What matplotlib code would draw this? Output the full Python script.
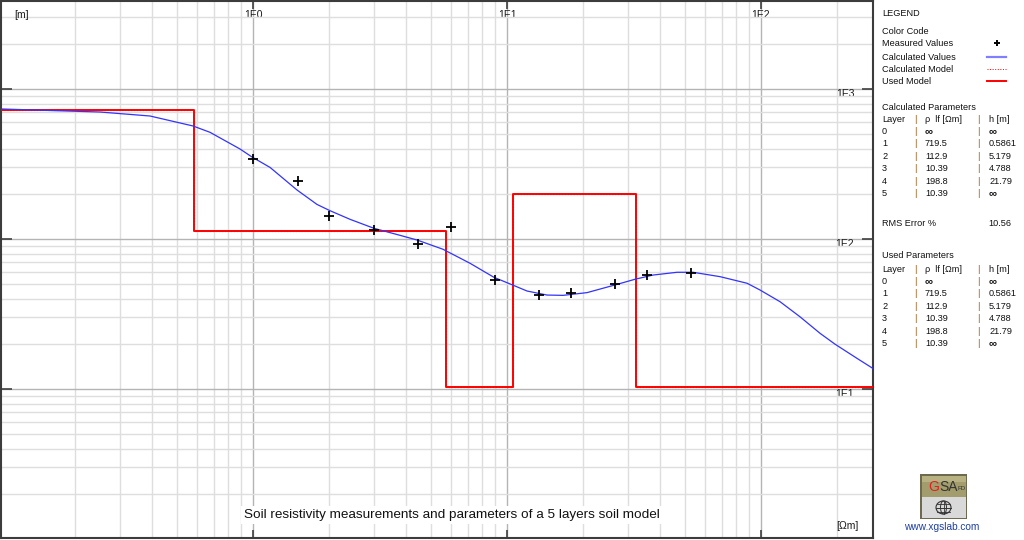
import numpy as np
import matplotlib
matplotlib.use("Agg")
import matplotlib.pyplot as plt
from matplotlib.lines import Line2D
from matplotlib.patches import Rectangle, Ellipse

plt.rcParams['font.family'] = ['Liberation Sans', 'DejaVu Sans']

# ---------------- data ----------------
meas_spacing = [1.0, 1.5, 2.0, 3.0, 4.45, 6.0, 9.0, 13.4, 17.8, 26.7, 35.6, 53.2]
meas_rho = [341, 243, 143, 115, 93, 120, 53, 42.1, 43.6, 49.9, 57.8, 59.0]

calc_spacing = [0.1028, 0.2497, 0.393, 0.5803, 0.677, 0.889, 0.991, 1.167, 1.49, 1.786,
                2.01, 2.409, 2.995, 3.791, 4.422, 5.598, 7.15, 8.888, 10.27, 11.99,
                14.37, 16.61, 20.65, 26.61, 31.9, 37.57, 46.7, 54.0, 68.98, 88.1,
                99.1, 118.8, 142.4, 170.8, 195.6, 238.8, 276.0]
calc_rho = [735.6, 702.4, 660.7, 566.9, 514.4, 398.0, 352.0, 300.0, 212.2, 170.0,
            154.4, 135.3, 117.8, 105.8, 98.5, 85.4, 68.9, 55.5, 50.2, 45.0,
            42.3, 42.1, 43.9, 49.4, 53.9, 57.5, 60.0, 60.0, 56.1, 50.7,
            45.7, 38.2, 30.3, 23.5, 19.9, 16.0, 13.7]

layers = ['0', '1', '2', '3', '4', '5']
layer_rho = [719.5, 112.9, 10.39, 198.8, 10.39]
layer_h = [0.5861, 5.179, 4.788, 21.79]
rho_labels = ['∞', '719.5', '112.9', '10.39', '198.8', '10.39']
h_labels = ['∞', '0.5861', '5.179', '4.788', '21.79', '∞']
rms_error = '10.56'

x_ticks = [1, 10, 100]
x_tick_labels = ['1E0', '1E1', '1E2']
y_ticks = [10, 100, 1000]
y_tick_labels = ['1E1', '1E2', '1E3']

title = 'Soil resistivity measurements and parameters of a 5 layers soil model'
x_unit = '[m]'
y_unit = '[Ωm]'

XMIN, XMAX = 0.1018, 276.0
YMIN, YMAX = 1.0155, 3861.0

# ---------------- figure ----------------
W, H = 1024, 540
fig = plt.figure(figsize=(W / 100, H / 100), dpi=100)
fig.patch.set_facecolor('white')


def fx(px):
    return px / W


def fy(py):
    return 1 - py / H


ax = fig.add_axes([fx(1), fy(538), 872 / W, 537 / H])
ax.set_xscale('log')
ax.set_yscale('log')
ax.set_xlim(XMIN, XMAX)
ax.set_ylim(YMIN, YMAX)

ax.grid(True, which='major', color='#b4b4b4', lw=1.0)
ax.grid(True, which='minor', color='#dedede', lw=1.0)
ax.set_axisbelow(True)

# used / calculated model (step)
depths = list(np.cumsum(layer_h))
edges = [XMIN] + depths + [XMAX]
vals = layer_rho + [layer_rho[-1]]
ax.step(edges, vals, where='post', color='#ff0000', lw=1.4, zorder=3)
ax.step(edges, vals, where='post', color='#ff0000', lw=0.8, ls=':', zorder=3)

ax.plot(calc_spacing, calc_rho, color='#3333ff', lw=0.9, zorder=4)
ax.plot(meas_spacing, meas_rho, ls='none', marker='+', color='black',
        ms=7, mew=1.3, zorder=5)

ax.set_xticks(x_ticks, labels=x_tick_labels)
ax.set_yticks(y_ticks, labels=y_tick_labels)
ax.xaxis.set_minor_formatter(matplotlib.ticker.NullFormatter())
ax.yaxis.set_minor_formatter(matplotlib.ticker.NullFormatter())
ax.tick_params(axis='x', which='major', direction='in', top=True, bottom=True,
               labeltop=True, labelbottom=False, length=6, width=1.2,
               color='#404040', pad=-14, labelsize=7.5, labelcolor='#1a1a1a')
ax.tick_params(axis='y', which='major', direction='in', left=True, right=True,
               labelleft=False, labelright=True, length=8, width=1.2,
               color='#404040', pad=-13.5, labelsize=7.5, labelcolor='#1a1a1a')
ax.tick_params(which='minor', length=0)
for t in ax.get_yticklabels():
    t.set_horizontalalignment('right')
    t.set_verticalalignment('top')

for s in ax.spines.values():
    s.set_color('#3c3c3c')
    s.set_linewidth(1.5)

fig.text(fx(14), fy(15), x_unit, fontsize=7.5, color='#1a1a1a', va='center', ha='left')
fig.text(fx(847), fy(526), y_unit, fontsize=7.5, color='#1a1a1a', va='center', ha='center')
fig.text(fx(451.5), fy(515), title, fontsize=9.7, color='#111111', va='center', ha='center',
         bbox=dict(facecolor='white', edgecolor='none', pad=2))

# ---------------- legend panel ----------------
FS = 6.6
TC = '#111111'
BAR = '#a05a10'


def ptxt(px, py, s, **kw):
    kw.setdefault('fontsize', FS)
    kw.setdefault('color', TC)
    fig.text(fx(px), fy(py), s, va='center', ha=kw.pop('ha', 'left'), **kw)


ptxt(882, 13, 'LEGEND')
ptxt(882, 32, 'Color Code')
ptxt(882, 44, 'Measured Values')
ptxt(882, 57, 'Calculated Values')
ptxt(882, 69, 'Calculated Model')
ptxt(882, 81, 'Used Model')

fig.add_artist(Line2D([fx(997)], [fy(43)], marker='+', color='black', ms=5, mew=1.4,
                      transform=fig.transFigure))
fig.add_artist(Line2D([fx(987), fx(1006)], [fy(57), fy(57)], color='#8080ff', lw=1.6,
                      transform=fig.transFigure))
fig.add_artist(Line2D([fx(987), fx(1006)], [fy(69), fy(69)], color='#ff0000', lw=0.7, ls=':',
                      transform=fig.transFigure))
fig.add_artist(Line2D([fx(987), fx(1006)], [fy(81), fy(81)], color='#ff0000', lw=1.4,
                      transform=fig.transFigure))


def cell(px, py, s):
    if s == '∞':
        ptxt(px, py, s, fontsize=FS + 1.5, fontweight='bold')
    else:
        ptxt(px, py, s)


def param_table(y_title, y_head, title_txt):
    ptxt(882, y_title, title_txt)
    ptxt(882, y_head, 'Layer')
    ptxt(914, y_head, '|', color=BAR)
    ptxt(925, y_head, 'ρ  lf [Ωm]')
    ptxt(977, y_head, '|', color=BAR)
    ptxt(989, y_head, 'h [m]')
    for i, lay in enumerate(layers):
        yy = y_head + 12.4 * (i + 1)
        ptxt(882, yy, lay)
        ptxt(914, yy, '|', color=BAR)
        cell(925, yy, rho_labels[i])
        ptxt(977, yy, '|', color=BAR)
        cell(989, yy, h_labels[i])


param_table(107, 119, 'Calculated Parameters')
ptxt(882, 224, 'RMS Error %')
ptxt(988, 224, rms_error)
param_table(256, 269, 'Used Parameters')

# ---------------- logo ----------------
lax = fig.add_axes([fx(920), fy(519), 47 / W, 45 / H])
lax.set_xlim(0, 47)
lax.set_ylim(0, 45)
lax.axis('off')
lax.add_patch(Rectangle((0, 0), 47, 45, facecolor='#6e6a50', edgecolor='none'))
lax.add_patch(Rectangle((1.5, 1.5), 44, 21, facecolor='#d9d9d9', edgecolor='none'))
lax.add_patch(Rectangle((1.5, 22.5), 44, 21, facecolor='#a39c6c', edgecolor='none'))
lax.add_patch(Rectangle((1.5, 37), 44, 6.5, facecolor='#b8b283', edgecolor='none'))
lax.text(8.5, 32, 'G', color='#e02020', fontsize=10, ha='left', va='center')
lax.text(19.3, 32, 'SA', color='#333333', fontsize=10, ha='left', va='center')
lax.text(37.5, 30.5, 'FD', color='#333333', fontsize=4.5, ha='left', va='center')
lax.add_patch(Ellipse((23.5, 11.5), 15, 13, facecolor='none', edgecolor='#333333', lw=0.8))
lax.add_patch(Ellipse((23.5, 11.5), 6, 13, facecolor='none', edgecolor='#333333', lw=0.7))
lax.plot([16, 31], [11.5, 11.5], color='#333333', lw=0.7)
lax.plot([17, 30], [15.5, 15.5], color='#333333', lw=0.6)
lax.plot([17, 30], [7.5, 7.5], color='#333333', lw=0.6)
lax.plot([23.5, 23.5], [5, 18], color='#333333', lw=0.6)

fig.text(fx(942), fy(527), 'www.xgslab.com', fontsize=7.3, color='#1f3f9f',
         ha='center', va='center')

fig.savefig('out.png', dpi=100)
